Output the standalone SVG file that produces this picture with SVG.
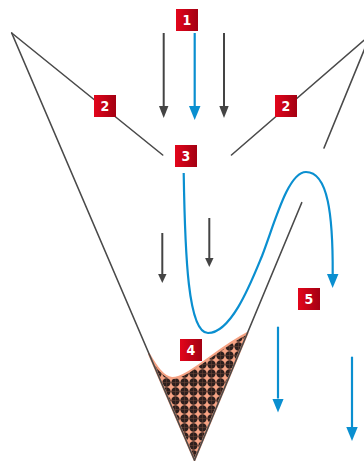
<svg xmlns="http://www.w3.org/2000/svg" width="364" height="461" viewBox="0 0 364 461">
  <style>
    .wall { fill: none; stroke: #4a4a4a; stroke-width: 1.6; stroke-linecap: round; }
    .flow-gray { fill: none; stroke: #444; stroke-width: 2; }
    .flow-blue { fill: none; stroke: #0a8fd0; stroke-width: 2.2; }
    .badge rect { fill: url(#badgeGrad); }
    .badge text { fill: #fff; font-family: "DejaVu Sans Condensed", "DejaVu Sans", sans-serif; font-stretch: condensed; font-weight: bold; font-size: 14px; text-anchor: middle; }
  </style>
  <defs>
    <linearGradient id="badgeGrad" x1="0" y1="0" x2="1" y2="0">
      <stop offset="0" stop-color="#e3051b"/>
      <stop offset="1" stop-color="#a30012"/>
    </linearGradient>
    <pattern id="sediment" patternUnits="userSpaceOnUse" width="9" height="9">
      <rect width="9" height="9" fill="#f5a283"/>
      <circle cx="4.5" cy="4.5" r="4.15" fill="#2d1f1d"/>
      <path d="M0,4.5 H9 M4.5,0 V9" stroke="#6e4638" stroke-width="0.5"/>
    </pattern>
    <marker id="headGray" markerUnits="userSpaceOnUse" markerWidth="12" markerHeight="14" refX="0" refY="5.5" orient="auto" viewBox="0 0 14 11">
      <path d="M0,0 L14,5.5 L0,11 Z" fill="#444"/>
    </marker>
    <marker id="headBlue" markerUnits="userSpaceOnUse" markerWidth="14" markerHeight="12" refX="0" refY="5.75" orient="auto" viewBox="0 0 14 11.5">
      <path d="M0,0 L14,5.75 L0,11.5 Z" fill="#0a8fd0"/>
    </marker>
    <marker id="headGraySmall" markerUnits="userSpaceOnUse" markerWidth="9" markerHeight="9" refX="0" refY="4.2" orient="auto" viewBox="0 0 9 8.4">
      <path d="M0,0 L9,4.2 L0,8.4 Z" fill="#444"/>
    </marker>
  </defs>

  <!-- settled sediment at the bottom of the cone -->
  <g id="sediment-bed">
    <path d="M149,354 C156,366 163,377 172,378 C188,378 215,350 247.5,333 L194.5,460 Z" fill="url(#sediment)" stroke="#f5a283" stroke-width="2" stroke-linejoin="round"/>
  </g>

  <!-- vessel walls -->
  <g id="walls">
    <path class="wall" d="M11.7,33 L162.7,155"/>
    <path class="wall" d="M11.7,33 L194.5,460"/>
    <path class="wall" d="M366,38.5 L231.5,155"/>
    <path class="wall" d="M365,48 L324,148"/>
    <path class="wall" d="M301.7,202.7 L194.5,460"/>
  </g>

  <!-- flow arrows -->
  <g id="connectors">
    <path class="flow-gray" d="M163.7,33 V106" marker-end="url(#headGray)"/>
    <path class="flow-blue" d="M194.7,33 V106" marker-end="url(#headBlue)"/>
    <path class="flow-gray" d="M224,33 V106" marker-end="url(#headGray)"/>
    <path class="flow-gray" d="M162.3,233 V274" stroke-width="1.6" marker-end="url(#headGraySmall)"/>
    <path class="flow-gray" d="M209.3,218 V258" stroke-width="1.6" marker-end="url(#headGraySmall)"/>
    <path class="flow-blue" d="M183.7,173 C185,255 188,333 208,333 C232,333 252,280 262,256 C275,222 288,172 306,172 C328,172 333,215 332.7,274" marker-end="url(#headBlue)"/>
    <path class="flow-blue" d="M278,326.7 V398.5" stroke-width="2.6" marker-end="url(#headBlue)"/>
    <path class="flow-blue" d="M352,356.7 V427" stroke-width="2.6" marker-end="url(#headBlue)"/>
  </g>

  <!-- numbered markers -->
  <g id="badge-1" class="badge"><rect x="176" y="9" width="22" height="22"/><text x="187" y="25">1</text></g>
  <g id="badge-2-left" class="badge"><rect x="94" y="95" width="22" height="22"/><text x="105" y="111">2</text></g>
  <g id="badge-2-right" class="badge"><rect x="275" y="95" width="22" height="22"/><text x="286" y="111">2</text></g>
  <g id="badge-3" class="badge"><rect x="175" y="145" width="22" height="22"/><text x="186" y="161">3</text></g>
  <g id="badge-4" class="badge"><rect x="180" y="339" width="22" height="22"/><text x="191" y="355">4</text></g>
  <g id="badge-5" class="badge"><rect x="298" y="288" width="22" height="22"/><text x="309" y="304">5</text></g>
</svg>
